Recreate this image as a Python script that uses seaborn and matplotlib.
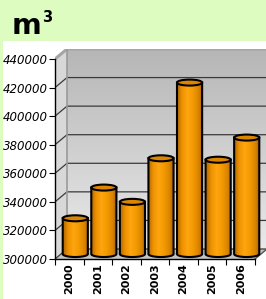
# Volumen anual en m3, barras cilíndricas estilo Excel
import numpy as np
import pandas as pd
import matplotlib
matplotlib.use("Agg")
import matplotlib.pyplot as plt
from matplotlib.patches import Ellipse, Polygon, Rectangle
from matplotlib.colors import LinearSegmentedColormap
import seaborn as sns

# datos
years = ["2000", "2001", "2002", "2003", "2004", "2005", "2006"]
volume = [325000, 346500, 336500, 367000, 420000, 366000, 381500]
y_ticks = [300000, 320000, 340000, 360000, 380000, 400000, 420000, 440000]
title = "m"
title_sup = "3"

df = pd.DataFrame({"year": years, "volume": volume})

sns.set_style("white")
plt.rcParams["font.family"] = ["DejaVu Sans"]

W, H = 266, 299
fig = plt.figure(figsize=(W / 100, H / 100), dpi=100)
fig.patch.set_facecolor("#DDFCC0")
fig.add_artist(Rectangle((3 / W, 0), 1, (H - 41) / H, transform=fig.transFigure,
                         facecolor="white", edgecolor="none", zorder=-5))
fig.text(12 / W, 1 - 34 / H, title, fontsize=20.5, fontweight="bold", va="baseline", color="black")
fig.text(42 / W, 1 - 22 / H, title_sup, fontsize=10.5, fontweight="bold", va="baseline", color="black")

# plano frontal 200x200 px + profundidad 12x10 px
ymin, ymax = y_ticks[0], y_ticks[-1]
n = len(years)
px_x = 200 / n
px_y = 200 / (ymax - ymin)
DX = 12 / px_x
DY = 10 / px_y

ax = fig.add_axes([55 / W, (H - 259) / H, 212 / W, 210 / H])
ax.set_facecolor("none")

sns.barplot(data=df, x="year", y="volume", color="#F39A00", width=0.88,
            linewidth=0, ax=ax, zorder=3)
bars = list(ax.patches)

# pared del fondo
wall_cmap = LinearSegmentedColormap.from_list("wall", ["#E9E9E9", "#B6B6B6"])
ax.imshow(np.linspace(0, 1, 100).reshape(-1, 1), cmap=wall_cmap, origin="lower",
          aspect="auto", extent=[-0.5 + DX, n - 0.5 + DX, ymin + DY, ymax + DY], zorder=0)
# pared lateral y piso
ax.add_patch(Polygon([(-0.5, ymin), (-0.5, ymax), (-0.5 + DX, ymax + DY), (-0.5 + DX, ymin + DY)],
                     facecolor="#D8D8D8", edgecolor="none", zorder=0.6))
ax.add_patch(Polygon([(-0.5, ymin), (n - 0.5, ymin), (n - 0.5 + DX, ymin + DY), (-0.5 + DX, ymin + DY)],
                     facecolor="#C4C4C4", edgecolor="none", zorder=0.6))
for v in y_ticks[:-1]:
    ax.plot([-0.5, -0.5 + DX, n - 0.5 + DX], [v, v + DY, v + DY], color="#3A3A3A", lw=0.9, zorder=1)
ax.plot([-0.5, -0.5 + DX, n - 0.5 + DX], [ymax, ymax + DY, ymax + DY], color="#A5A5A5", lw=2.2, zorder=1.1)
ax.plot([-0.5 + DX] * 2, [ymin + DY, ymax + DY], color="#9A9A9A", lw=1.2, zorder=1.1)
ax.plot([n - 0.5, n - 0.5 + DX], [ymin, ymin + DY], color="#555555", lw=1, zorder=1.1)

# cilindros
cyl_cmap = LinearSegmentedColormap.from_list(
    "cyl", [(0, "#B06500"), (0.18, "#EC9000"), (0.4, "#FFA510"), (0.62, "#F39A00"),
            (0.85, "#D88300"), (1, "#A35C00")])
eh = 6 / px_y
t = np.linspace(np.pi, 2 * np.pi, 40)
for p in bars:
    w = p.get_width()
    x0 = p.get_x() + DX / 2
    top = p.get_height() + DY / 2
    bot = ymin + DY / 2
    p.set_x(x0)
    p.set_y(bot)
    p.set_height(top - bot)
    cx = x0 + w / 2
    arc = np.column_stack([cx + w / 2 * np.cos(t), bot + eh / 2 * np.sin(t)])
    outline = np.vstack([[(x0, top), (x0, bot)], arc, [(x0 + w, top)]])
    body = Polygon(outline, closed=True, facecolor="none", edgecolor="black", lw=1.5, zorder=4)
    ax.add_patch(body)
    im = ax.imshow(np.linspace(0, 1, 64).reshape(1, -1), cmap=cyl_cmap, aspect="auto",
                   extent=[x0, x0 + w, bot - eh / 2, top], zorder=3.5)
    im.set_clip_path(body)
    ax.add_patch(Ellipse((cx, top), w, eh, facecolor="#DC8500", edgecolor="black", lw=1.5, zorder=5))

ax.set_xlim(-0.5, n - 0.5 + DX)
ax.set_ylim(ymin, ymax + DY)

# ejes
ax.set_yticks(y_ticks)
ax.set_yticklabels([str(v) for v in y_ticks], fontsize=8.5, fontstyle="italic")
ax.set_xticks(range(n))
ax.set_xticklabels(years, rotation=90, fontsize=8, fontweight="bold")
ax.set_xticks(np.arange(n + 1) - 0.5, minor=True)
ax.tick_params(axis="x", which="major", bottom=True, length=0, pad=3, labelcolor="black")
ax.tick_params(axis="x", which="minor", bottom=True, length=4, width=0.8, color="black", direction="out")
ax.tick_params(axis="y", left=True, length=4, width=0.8, color="black", pad=1,
               direction="out", labelcolor="black")
ax.set_xlabel("")
ax.set_ylabel("")
for s in ["top", "right"]:
    ax.spines[s].set_visible(False)
ax.spines["left"].set_bounds(ymin, ymax)
ax.spines["bottom"].set_bounds(-0.5, n - 0.5)
for s in ["left", "bottom"]:
    ax.spines[s].set_color("black")
    ax.spines[s].set_linewidth(1)

fig.savefig("out.png", dpi=100)
